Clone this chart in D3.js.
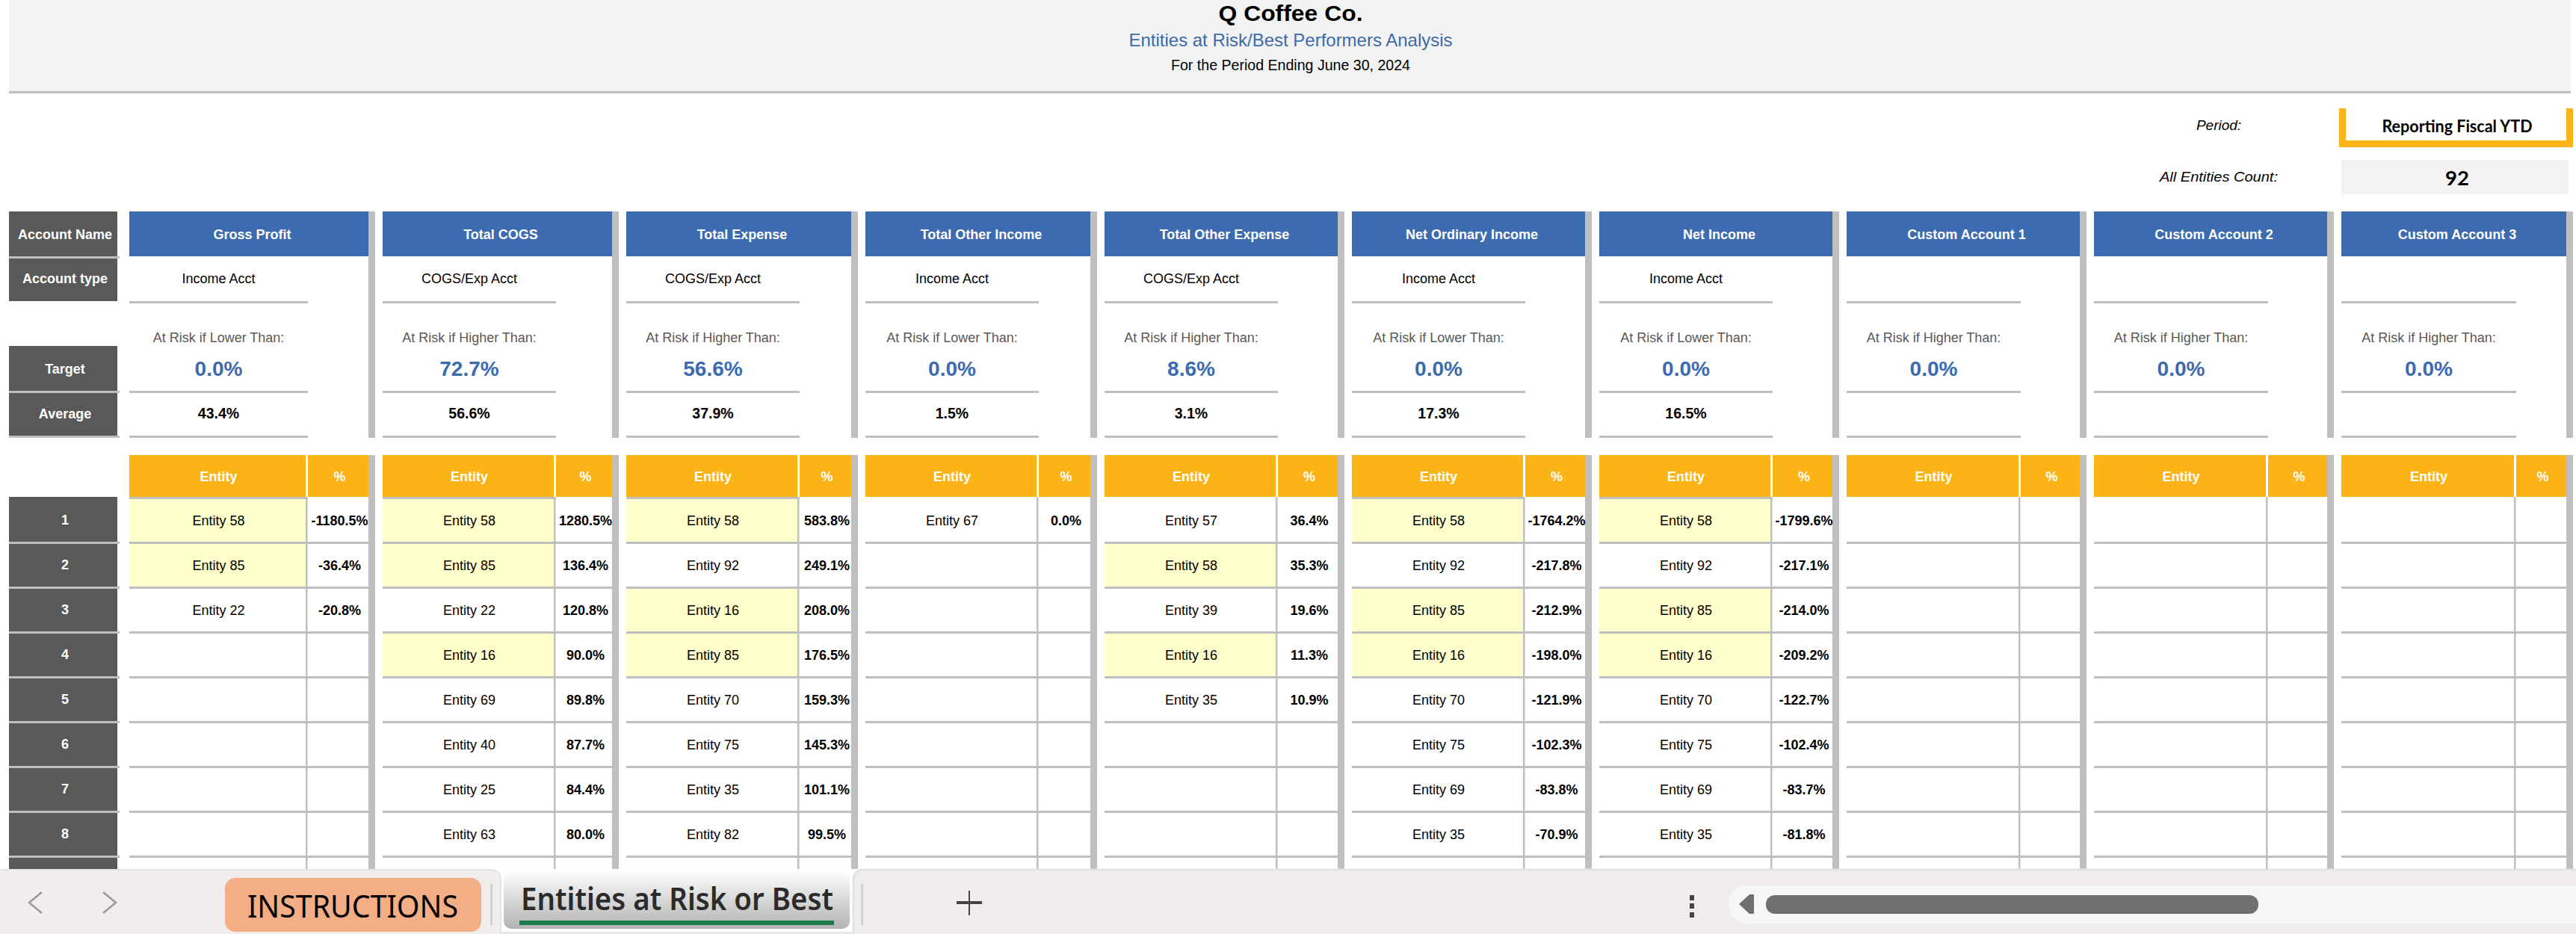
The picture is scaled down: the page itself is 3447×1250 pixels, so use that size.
<!DOCTYPE html>
<html>
<head>
<meta charset="utf-8">
<script src="https://cdn.jsdelivr.net/npm/d3@7"></script>
<style>
    html, body { margin: 0; padding: 0; background: #fff; }
    svg { display: block; }
    text { font-family: "Liberation Sans", Arial, sans-serif; text-anchor: middle; }
    .title { font-size: 29px; font-weight: bold; fill: #000; }
    .subtitle { font-size: 24px; fill: #3c6aaa; }
    .period { font-size: 20px; fill: #000; }
    .side { font-size: 19px; font-style: italic; fill: #000; }
    .choice { font-family: Lato, sans-serif; font-size: 23px; font-weight: bold; fill: #000; }
    .count { font-family: Lato, sans-serif; font-size: 27.5px; font-weight: bold; fill: #000; }
    .head { font-size: 18px; font-weight: bold; fill: #fff; }
    .cell { font-size: 18px; fill: #000; }
    .rule { font-size: 18px; fill: #595959; }
    .target { font-size: 28px; font-weight: bold; fill: #3c6aaf; }
    .avg { font-size: 19.5px; font-weight: bold; fill: #000; }
    .pct { font-size: 18px; font-weight: bold; fill: #000; }
    .tab { font-family: "Noto Sans", sans-serif; font-size: 42px; fill: #000; }
    .tab-on { font-family: "Noto Sans", sans-serif; font-size: 42px; font-weight: 600; fill: #2b2b2b; }
</style>
</head>
<body>
<script>
// values
var accounts = ['Gross Profit', 'Total COGS', 'Total Expense', 'Total Other Income', 'Total Other Expense',
    'Net Ordinary Income', 'Net Income', 'Custom Account 1', 'Custom Account 2', 'Custom Account 3'];
var accountTypes = ['Income Acct', 'COGS/Exp Acct', 'COGS/Exp Acct', 'Income Acct', 'COGS/Exp Acct',
    'Income Acct', 'Income Acct', '', '', ''];
var riskRules = ['Lower', 'Higher', 'Higher', 'Lower', 'Higher', 'Lower', 'Lower', 'Higher', 'Higher', 'Higher'];
var targets = [0.0, 72.7, 56.6, 0.0, 8.6, 0.0, 0.0, 0.0, 0.0, 0.0];
var averages = [43.4, 56.6, 37.9, 1.5, 3.1, 17.3, 16.5, null, null, null];
var rowLabels = ['Account Name', 'Account type', 'Target', 'Average'];
var ranks = [1, 2, 3, 4, 5, 6, 7, 8, 9];
var flaggedEntities = [58, 85, 16];

var entityIds = [
    [58, 85, 22],
    [58, 85, 22, 16, 69, 40, 25, 63],
    [58, 92, 16, 85, 70, 75, 35, 82],
    [67],
    [57, 58, 39, 16, 35],
    [58, 92, 85, 16, 70, 75, 69, 35],
    [58, 92, 85, 16, 70, 75, 69, 35],
    [], [], []
];
var entityPcts = [
    [-1180.5, -36.4, -20.8],
    [1280.5, 136.4, 120.8, 90.0, 89.8, 87.7, 84.4, 80.0],
    [583.8, 249.1, 208.0, 176.5, 159.3, 145.3, 101.1, 99.5],
    [0.0],
    [36.4, 35.3, 19.6, 11.3, 10.9],
    [-1764.2, -217.8, -212.9, -198.0, -121.9, -102.3, -83.8, -70.9],
    [-1799.6, -217.1, -214.0, -209.2, -122.7, -102.4, -83.7, -81.8],
    [], [], []
];

// sheet geometry, column widths are not even in the screenshot
var colLeft = [173, 512, 838, 1158, 1478, 1809, 2140, 2471, 2802, 3133];
var colSplit = [409, 741, 1067, 1387, 1707, 2038, 2369, 2701, 3032, 3364];
var colRight = [493, 819, 1139, 1459, 1790, 2121, 2452, 2783, 3114, 3434];
var colEdge = [502, 828, 1148, 1468, 1799, 2130, 2461, 2792, 3123, 3443];
var footerTop = 1163;

var C = { gray: '#bfbfbf', dark: '#595959', blue: '#3c6bb0', orange: '#fcb316', pale: '#ffffcc', band: '#f2f2f2' };

var x0 = d3.scaleOrdinal().domain(accounts).range(colLeft);
var xSplit = d3.scaleOrdinal().domain(accounts).range(colSplit);
var x1 = d3.scaleOrdinal().domain(accounts).range(colRight);
var xEdge = d3.scaleOrdinal().domain(accounts).range(colEdge);
var yRow = d3.scaleBand().domain(ranks).range([665, 1205]);

var svg = d3.select('body').append('svg').attr('width', 3447).attr('height', 1250);

function rect(g, x, y, w, h, fill) {
    return g.append('rect').attr('x', x).attr('y', y).attr('width', w).attr('height', h).attr('fill', fill);
}
function label(g, x, y, str, cls) {
    return g.append('text').attr('x', x).attr('y', y).attr('class', cls).text(str);
}
// squeeze or stretch a text to the width it has in the screenshot
function fit(t, w) {
    return t.attr('textLength', w).attr('lengthAdjust', 'spacingAndGlyphs');
}
var fmt = v => v.toFixed(1) + '%';

// title band
rect(svg, 12, 0, 3428, 122, C.band);
rect(svg, 12, 122, 3428, 3, C.gray);
fit(label(svg, 1727, 28, 'Q Coffee Co.', 'title'), 193);
fit(label(svg, 1727, 62, 'Entities at Risk/Best Performers Analysis', 'subtitle'), 433);
fit(label(svg, 1727, 94, 'For the Period Ending June 30, 2024', 'period'), 320);

// period selector
label(svg, 2969, 174, 'Period:', 'side');
fit(label(svg, 2969, 243, 'All Entities Count:', 'side'), 158);
rect(svg, 3130, 145, 313, 52, C.orange);
rect(svg, 3139, 145, 295, 43, '#fff');
fit(label(svg, 3288, 177, 'Reporting Fiscal YTD', 'choice'), 201);
rect(svg, 3133, 214, 304, 46, C.band);
label(svg, 3288, 247.5, '92', 'count');

// left labels
var labelTops = [283, 343, 463, 523];
var labelBase = [320, 379, 500, 560];
rowLabels.forEach((d, i) => {
    rect(svg, 12, labelTops[i], 145, 60, C.dark);
    label(svg, 87, labelBase[i], d, 'head');
});
[343, 523, 583].forEach(y => rect(svg, 12, y, 148, 3, C.gray));

var rankG = svg.append('g');
rankG.selectAll('rect.rank').data(ranks).enter().append('rect').attr('class', 'rank')
    .attr('x', 12).attr('y', d => yRow(d)).attr('width', 145).attr('height', yRow.bandwidth())
    .attr('fill', C.dark);
rankG.selectAll('rect.sep').data(ranks).enter().append('rect').attr('class', 'sep')
    .attr('x', 12).attr('y', d => yRow(d) + 60).attr('width', 148).attr('height', 3)
    .attr('fill', C.gray);
rankG.selectAll('text').data(ranks.slice(0, 8)).enter().append('text')
    .attr('class', 'head').attr('x', 87).attr('y', d => yRow(d) + 37).text(d => d);

// one block per account
accounts.forEach((name, i) => {
    var g = svg.append('g').attr('class', 'account');
    var l = x0(name), s = xSplit(name), r = x1(name), e = xEdge(name);
    var shortMid = (l + s + 3) / 2;
    var pctMid = (s + 3 + r) / 2 + 2;

    rect(g, l, 283, r - l, 60, C.blue);
    label(g, (l + e) / 2, 320, name, 'head');
    label(g, shortMid, 379, accountTypes[i], 'cell');
    [403, 523, 583].forEach(y => rect(g, l, y, s + 3 - l, 3, C.gray));

    label(g, shortMid, 458, 'At Risk if ' + riskRules[i] + ' Than:', 'rule');
    label(g, shortMid, 503, fmt(targets[i]), 'target');
    if (averages[i] !== null) label(g, shortMid, 560, fmt(averages[i]), 'avg');

    rect(g, r, 283, e - r, 303, C.gray);
    rect(g, r, 609, e - r, footerTop - 609, C.gray);

    rect(g, l, 609, r - l, 56, C.orange);
    rect(g, s, 609, 3, 56, '#fff');
    label(g, shortMid, 644, 'Entity', 'head');
    label(g, pctMid, 644, '%', 'head');

    var flagged = entityIds[i].map((id, k) => ({ id: id, rank: ranks[k] }))
        .filter(d => flaggedEntities.indexOf(d.id) >= 0);
    g.selectAll('rect.flag').data(flagged).enter().append('rect').attr('class', 'flag')
        .attr('x', l).attr('y', d => yRow(d.rank)).attr('width', s - l).attr('height', yRow.bandwidth())
        .attr('fill', C.pale);
    // first row keeps a rule under the header only when it is flagged
    g.selectAll('rect.top').data(flagged.filter(d => d.rank === 1)).enter().append('rect').attr('class', 'top')
        .attr('x', l).attr('y', d => yRow(d.rank)).attr('width', s + 3 - l).attr('height', 3)
        .attr('fill', C.gray);

    g.selectAll('rect.line').data(ranks).enter().append('rect').attr('class', 'line')
        .attr('x', l).attr('y', d => yRow(d) + 60).attr('width', r - l).attr('height', 3)
        .attr('fill', C.gray);
    rect(g, s, 665, 2.5, footerTop - 665, C.gray);

    g.selectAll('text.entity').data(entityIds[i]).enter().append('text').attr('class', 'entity cell')
        .attr('x', shortMid).attr('y', (d, k) => yRow(ranks[k]) + 38).text(d => 'Entity ' + d);
    g.selectAll('text.pct').data(entityPcts[i]).enter().append('text').attr('class', 'pct')
        .attr('x', pctMid).attr('y', (d, k) => yRow(ranks[k]) + 38).text(fmt);
});

// excel tab strip
var grad = svg.append('defs').append('linearGradient').attr('id', 'tabOn')
    .attr('x1', 0).attr('x2', 0).attr('y1', 0).attr('y2', 1);
grad.append('stop').attr('offset', '0%').attr('stop-color', '#fff');
grad.append('stop').attr('offset', '100%').attr('stop-color', '#b2b2b2');

var foot = svg.append('g');
rect(foot, 0, footerTop, 3447, 87, '#fff');
rect(foot, 0, 1247, 3447, 3, '#e8e6e6');
rect(foot, -20, footerTop + 1, 690, 100, '#f1eded').attr('rx', 12).attr('stroke', '#e6e3e3').attr('stroke-width', 2);
rect(foot, 1142, footerTop + 1, 2340, 100, '#f1eded').attr('rx', 12).attr('stroke', '#e3e3e3').attr('stroke-width', 3);

foot.append('path').attr('d', 'M56,1194 L39,1208 L56,1222').attr('fill', 'none').attr('stroke', '#999').attr('stroke-width', 2.5);
foot.append('path').attr('d', 'M138,1194 L155,1208 L138,1222').attr('fill', 'none').attr('stroke', '#999').attr('stroke-width', 2.5);

rect(foot, 301, 1175, 343, 72, '#f4ae85').attr('rx', 14);
fit(label(foot, 472, 1228, 'INSTRUCTIONS', 'tab'), 282);
rect(foot, 656, 1183, 3, 55, '#d4d0d0');

rect(foot, 674, 1165, 463, 78, 'url(#tabOn)').attr('rx', 10);
fit(label(foot, 906, 1218, 'Entities at Risk or Best', 'tab-on'), 418);
rect(foot, 695, 1232, 421, 6, '#1a7a4a');
rect(foot, 1152, 1183, 3, 55, '#d4d0d0');

rect(foot, 1280, 1206, 34, 4, '#444');
rect(foot, 1296, 1192, 2, 33, '#444');
[1198, 1209, 1221].forEach(y => rect(foot, 2261, y, 6, 7, '#444'));

rect(foot, 2313, 1185, 1160, 51, '#f6f6f6').attr('rx', 24);
foot.append('path').attr('d', 'M2347,1197 L2347,1223 L2341,1223 L2327,1210 L2341,1197 Z').attr('fill', '#707070');
rect(foot, 2363, 1198, 659, 25, '#707070').attr('rx', 12);
</script>
</body>
</html>
